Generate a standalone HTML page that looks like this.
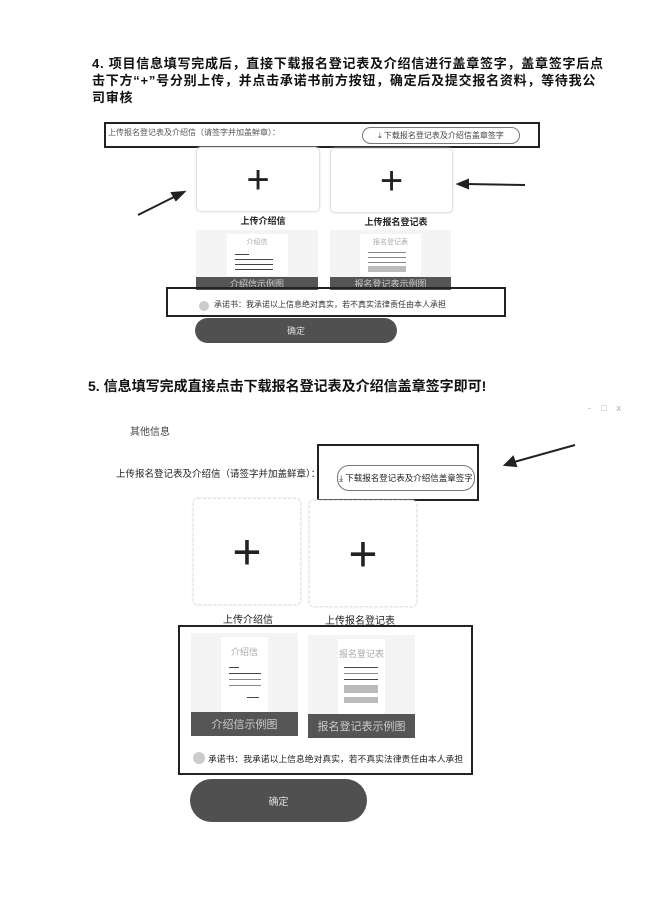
<!DOCTYPE html>
<html><head><meta charset="utf-8"><style>
body{margin:0;width:666px;height:915px;background:#fff;position:relative;overflow:hidden;font-family:"Liberation Sans","Noto Sans CJK SC",sans-serif;color:#222}
.a{position:absolute}
.t{font-weight:bold;font-size:13px;line-height:17px;color:#111}
.card{position:absolute;background:#fff;border:1px solid #e2e2e2;border-radius:5px;box-shadow:0 0 2px #ddd}
.plus{position:absolute;left:50%;top:50%;transform:translate(-50%,-50%);font-size:40px;line-height:1;font-weight:300;color:#222}
.box{position:absolute;border:2px solid #222}
.pill{position:absolute;border:1px solid #777;border-radius:12px;font-size:8px;color:#444;display:flex;align-items:center;justify-content:center;white-space:nowrap}
.samp{position:absolute;background:#f4f4f4}
.doc{position:absolute;background:#fff;left:25%;width:50%;top:4px;bottom:14px}
.bar{position:absolute;left:0;right:0;bottom:0;background:#555;color:#ccc;text-align:center;font-size:9px;display:flex;align-items:center;justify-content:center}
.ln{position:absolute;height:1px;background:#444}
.btn{position:absolute;background:#505050;border-radius:14px;color:#ddd;display:flex;align-items:center;justify-content:center;font-size:9px}
.lab{position:absolute;font-size:9px;font-weight:bold;color:#222;transform:translateX(-50%);white-space:nowrap}
</style></head><body>
<div class="a t" style="left:92px;top:55px;width:514px;letter-spacing:0.75px">4. 项目信息填写完成后，直接下载报名登记表及介绍信进行盖章签字，盖章签字后点击下方“+”号分别上传，并点击承诺书前方按钮，确定后及提交报名资料，等待我公司审核</div>

<div class="box" style="left:104px;top:122px;width:432px;height:22px"></div>
<div class="a" style="left:108px;top:127px;font-size:8px;color:#555">上传报名登记表及介绍信（请签字并加盖鲜章）：</div>
<div class="pill" style="left:362px;top:127px;width:156px;height:15px">⤓ 下载报名登记表及介绍信盖章签字</div>
<div class="card" style="left:196px;top:147px;width:122px;height:63px"><div class="plus">+</div></div>
<div class="card" style="left:330px;top:148px;width:121px;height:63px"><div class="plus">+</div></div>
<div class="lab" style="left:263px;top:214px">上传介绍信</div>
<div class="lab" style="left:396px;top:215px">上传报名登记表</div>
<div class="samp" style="left:196px;top:230px;width:122px;height:60px"><div class="doc"><div class="a" style="left:0;right:0;top:3px;text-align:center;font-size:7px;color:#aaa">介绍信</div><div class="ln" style="left:8px;width:14px;top:20px"></div><div class="ln" style="left:8px;width:38px;top:25px"></div><div class="ln" style="left:8px;width:38px;top:30px"></div><div class="ln" style="left:8px;width:38px;top:35px"></div></div><div class="bar" style="height:13px">介绍信示例图</div></div>
<div class="samp" style="left:330px;top:230px;width:121px;height:60px"><div class="doc"><div class="a" style="left:0;right:0;top:3px;text-align:center;font-size:7px;color:#aaa">报名登记表</div><div class="ln" style="left:8px;width:38px;top:18px;background:#888"></div><div class="ln" style="left:8px;width:38px;top:23px;background:#888"></div><div class="ln" style="left:8px;width:38px;top:28px;background:#888"></div><div class="a" style="left:8px;width:38px;top:32px;height:6px;background:#bbb"></div></div><div class="bar" style="height:13px">报名登记表示例图</div></div>
<div class="box" style="left:166px;top:287px;width:336px;height:26px"></div>
<div class="a" style="left:199px;top:301px;width:10px;height:10px;border-radius:50%;background:#ccc"></div>
<div class="a" style="left:214px;top:299px;font-size:8px;color:#333">承诺书：我承诺以上信息绝对真实，若不真实法律责任由本人承担</div>
<div class="btn" style="left:195px;top:318px;width:202px;height:25px">确定</div>

<div class="a t" style="left:88px;top:378px;font-size:14px">5. 信息填写完成直接点击下载报名登记表及介绍信盖章签字即可!</div>
<div class="a" style="left:588px;top:403px;font-size:9px;color:#aaa;letter-spacing:10px">-□x</div>
<div class="a" style="left:130px;top:423px;font-size:10px;color:#444">其他信息</div>
<div class="a" style="left:116px;top:466px;font-size:9.5px;color:#222">上传报名登记表及介绍信（请签字并加盖鲜章）：</div>
<div class="box" style="left:317px;top:444px;width:158px;height:53px"></div>
<div class="pill" style="left:337px;top:465px;width:136px;height:24px;border-radius:12px;color:#222;font-size:8.5px">⤓ 下载报名登记表及介绍信盖章签字</div>
<div class="card" style="left:193px;top:498px;width:106px;height:105px;border-style:dashed"><div class="plus" style="font-size:50px">+</div></div>
<div class="card" style="left:309px;top:500px;width:106px;height:105px;border-style:dashed"><div class="plus" style="font-size:50px">+</div></div>
<div class="lab" style="left:248px;top:611px;font-size:10px;font-weight:normal">上传介绍信</div>
<div class="lab" style="left:360px;top:612px;font-size:10px;font-weight:normal">上传报名登记表</div>
<div class="box" style="left:178px;top:625px;width:291px;height:146px"></div>
<div class="samp" style="left:191px;top:633px;width:107px;height:103px"><div class="doc" style="left:28%;width:44%"><div class="a" style="left:0;right:0;top:8px;text-align:center;font-size:9px;color:#aaa">介绍信</div><div class="ln" style="left:8px;width:10px;top:30px"></div><div class="ln" style="left:8px;width:32px;top:36px"></div><div class="ln" style="left:8px;width:32px;top:42px;background:#888"></div><div class="ln" style="left:8px;width:32px;top:48px;background:#888"></div><div class="ln" style="left:26px;width:12px;top:60px"></div></div><div class="bar" style="height:24px;font-size:11px">介绍信示例图</div></div>
<div class="samp" style="left:308px;top:635px;width:107px;height:103px"><div class="doc" style="left:28%;width:44%"><div class="a" style="left:0;right:0;top:8px;text-align:center;font-size:9px;color:#aaa">报名登记表</div><div class="ln" style="left:6px;width:34px;top:28px"></div><div class="ln" style="left:6px;width:34px;top:34px;background:#888"></div><div class="ln" style="left:6px;width:34px;top:40px"></div><div class="a" style="left:6px;width:34px;top:46px;height:8px;background:#bbb"></div><div class="a" style="left:6px;width:34px;top:58px;height:6px;background:#bbb"></div></div><div class="bar" style="height:24px;font-size:11px">报名登记表示例图</div></div>
<div class="a" style="left:193px;top:752px;width:12px;height:12px;border-radius:50%;background:#ccc"></div>
<div class="a" style="left:208px;top:752px;font-size:8.8px;color:#222;white-space:nowrap">承诺书：我承诺以上信息绝对真实，若不真实法律责任由本人承担</div>
<div class="btn" style="left:190px;top:779px;width:177px;height:43px;border-radius:22px;font-size:10px">确定</div>

<svg class="a" style="left:0;top:0" width="666" height="915">
<g stroke="#222" stroke-width="2" fill="#222">
<line x1="138" y1="215" x2="176" y2="196"/><polygon points="184,192 172,193 176,200"/>
<line x1="525" y1="185" x2="466" y2="184"/><polygon points="458,184 468,180 468,188"/>
<line x1="575" y1="445" x2="514" y2="462"/><polygon points="505,465 513,457 516,466"/>
</g></svg>
</body></html>
